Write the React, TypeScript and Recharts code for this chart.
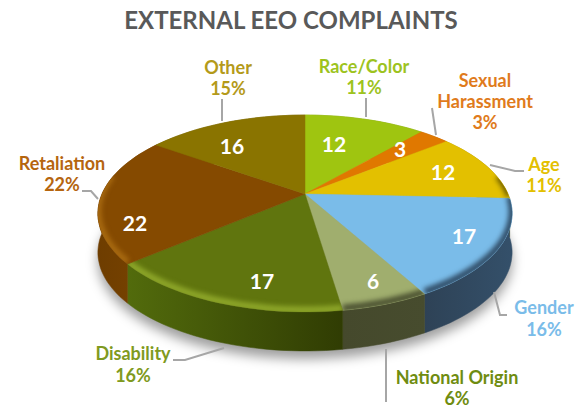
import { PieChart, Pie } from 'recharts';

const CATEGORIES = ['Race/Color', 'Sexual Harassment', 'Age', 'Gender', 'National Origin', 'Disability', 'Retaliation', 'Other'];
const COUNTS = [12, 3, 12, 17, 6, 17, 22, 16];
const PERCENTS = ['11%', '3%', '11%', '16%', '6%', '16%', '22%', '15%'];

const FACE_COLORS = ['#9fc510', '#e07800', '#e3c000', '#7abce9', '#a0ae6e', '#60750e', '#854a00', '#8a7400'];
const WALL_COLORS = [
  ['#7f9d0d', '#7f9d0d'],
  ['#b36000', '#b36000'],
  ['#b59900', '#8a7400'],
  ['#2e4256', '#34506a'],
  ['#45492c', '#474c2e'],
  ['#526b0c', '#303c03'],
  ['#6e3d00', '#7a4400'],
  ['#6e5d00', '#6e5d00'],
];
const BEVEL_COLORS = ['none', 'none', '#6e5d00', '#2e4a64', '#4a5030', '#8fa82a', '#a86a10', 'none'];
const TEXT_COLORS = ['#9dc31e', '#e07b1c', '#e3c000', '#7abce9', '#6f8c10', '#7f9a20', '#b5650f', '#b49a1a'];

// hand placed in the original, relative to the pie centre
const COUNT_OFFSETS = [[29, -49], [95, -44], [138, -21], [159, 43], [68, 88], [-43, 88], [-170, 30], [-73, -47]];
const LABEL_POS = [
  { x: 364, y: [67, 88] },
  { x: 485, y: [81, 102, 123] },
  { x: 544, y: [165, 186] },
  { x: 544, y: [308, 330] },
  { x: 457, y: [378, 399] },
  { x: 133, y: [354, 376] },
  { x: 62, y: [164, 185] },
  { x: 228, y: [68, 89] },
];
const LEADERS = [
  '366,98 366,117',
  '432,108 436,135',
  '490,165 515,171 524,171',
  '494,292 500,315 507,315',
  '386,349 386,402',
  '173,360 185,360 224,348',
  '82,191 91,191 98,199',
  '222,99 222,121',
];

const data = CATEGORIES.map((name, i) => ({ name, value: COUNTS[i], idx: i }));
const shadowData = [{ name: 'all', value: COUNTS.reduce((a, b) => a + b, 0) }];

const WIDTH = 582;
const HEIGHT = 409;
const CX = 305;
const CY = 194;
const RADIUS = 203;
const DEPTH = 39;
const TILT = 0.466;
const PERSPECTIVE = 0.198;
const FONT = 'Lato, "Open Sans", sans-serif';

// pie angle + radius fraction -> tilted disc on screen
const project = (angle: number, frac = 1): [number, number] => {
  const rad = (angle * Math.PI) / 180;
  const u = Math.cos(rad) * frac;
  const v = -Math.sin(rad) * frac;
  const d = 1 - PERSPECTIVE * v;
  return [CX + (RADIUS * u) / d, CY + (RADIUS * TILT * v) / d];
};

const rim = (start: number, end: number): [number, number][] => {
  const steps = Math.max(2, Math.ceil(Math.abs(start - end) / 2));
  const pts: [number, number][] = [];
  for (let i = 0; i <= steps; i++) pts.push(project(start + ((end - start) * i) / steps));
  return pts;
};

const toPath = (pts: [number, number][], dy = 0) =>
  pts.map((p, i) => `${i ? 'L' : 'M'}${p[0].toFixed(1)},${(p[1] + dy).toFixed(1)}`).join(' ');

const ShadowShape = (props: any) => (
  <path
    d={toPath(rim(props.startAngle, props.endAngle), DEPTH + 8) + ' Z'}
    fill="#000"
    fillOpacity={0.38}
    style={{ filter: 'blur(6px)' }}
  />
);

const WallShape = (props: any) => {
  const i = props.idx;
  const pts = rim(props.startAngle, props.endAngle);
  const xs = pts.map(p => p[0]);
  const back = pts.map(p => [p[0], p[1] + DEPTH] as [number, number]).reverse();
  return (
    <g>
      <defs>
        <linearGradient id={`wall-${i}`} gradientUnits="userSpaceOnUse" x1={Math.min(...xs)} x2={Math.max(...xs) + 1} y1={0} y2={0}>
          <stop offset="0%" stopColor={WALL_COLORS[i][0]} />
          <stop offset="100%" stopColor={WALL_COLORS[i][1]} />
        </linearGradient>
      </defs>
      <path d={toPath([...pts, ...back]) + ' Z'} fill={`url(#wall-${i})`} stroke={`url(#wall-${i})`} strokeWidth={0.5} />
    </g>
  );
};

const FaceShape = (props: any) => {
  const i = props.idx;
  const pts = rim(props.startAngle, props.endAngle);
  const d = `M${CX},${CY} ` + toPath(pts).replace('M', 'L') + ' Z';
  // bevel only along the front of the disc
  const lo = Math.max(props.endAngle, -190);
  const hi = Math.min(props.startAngle, 10);
  const wrap = props.startAngle > 10 && props.endAngle < -190;
  const bevelPts = lo < hi && !wrap ? rim(hi, lo) : [];
  return (
    <g>
      <clipPath id={`face-${i}`}>
        <path d={d} />
      </clipPath>
      <path d={d} fill={FACE_COLORS[i]} stroke={FACE_COLORS[i]} strokeWidth={0.5} />
      {bevelPts.length > 0 && BEVEL_COLORS[i] !== 'none' && (
        <g clipPath={`url(#face-${i})`}>
          <path
            d={toPath(bevelPts, -2)}
            fill="none"
            stroke={BEVEL_COLORS[i]}
            strokeWidth={7}
            style={{ filter: 'blur(2.5px)' }}
          />
        </g>
      )}
    </g>
  );
};

const renderLabel = (props: any) => {
  const i = props.idx;
  const words = CATEGORIES[i] === 'Sexual Harassment' ? ['Sexual', 'Harassment', PERCENTS[i]] : [CATEGORIES[i], PERCENTS[i]];
  return (
    <g key={i} fontFamily={FONT} fontWeight={700} textAnchor="middle">
      <polyline points={LEADERS[i]} fill="none" stroke="#a6a6a6" strokeWidth={2} />
      {words.map((w, k) => (
        <text key={w} x={LABEL_POS[i].x} y={LABEL_POS[i].y[k]} dy="0.35em" fontSize={18} fill={TEXT_COLORS[i]}>
          {w}
        </text>
      ))}
      <text x={CX + COUNT_OFFSETS[i][0]} y={CY + COUNT_OFFSETS[i][1]} dy="0.35em" fontSize={21} fill="#fff">
        {COUNTS[i]}
      </text>
    </g>
  );
};

const App = () => (
  <div style={{ position: 'absolute', left: 0, top: 0, width: WIDTH, height: HEIGHT, background: '#fff' }}>
    <div
      style={{
        position: 'absolute',
        left: 0,
        right: 0,
        top: 5,
        textAlign: 'center',
        fontFamily: FONT,
        fontWeight: 700,
        fontSize: 24,
        color: '#595959',
        zIndex: 1,
      }}
    >
      EXTERNAL EEO COMPLAINTS
    </div>
    <PieChart width={WIDTH} height={HEIGHT} margin={{ top: 0, right: 0, bottom: 0, left: 0 }}>
      <Pie data={shadowData} dataKey="value" cx={CX} cy={CY} outerRadius={RADIUS} startAngle={90} endAngle={-270} stroke="none" shape={ShadowShape} isAnimationActive={false} />
      <Pie data={data} dataKey="value" cx={CX} cy={CY} outerRadius={RADIUS} startAngle={90} endAngle={-270} stroke="none" shape={WallShape} isAnimationActive={false} />
      <Pie data={data} dataKey="value" cx={CX} cy={CY} outerRadius={RADIUS} startAngle={90} endAngle={-270} stroke="none" shape={FaceShape} label={renderLabel} labelLine={false} isAnimationActive={false} />
    </PieChart>
  </div>
);

export default App;
